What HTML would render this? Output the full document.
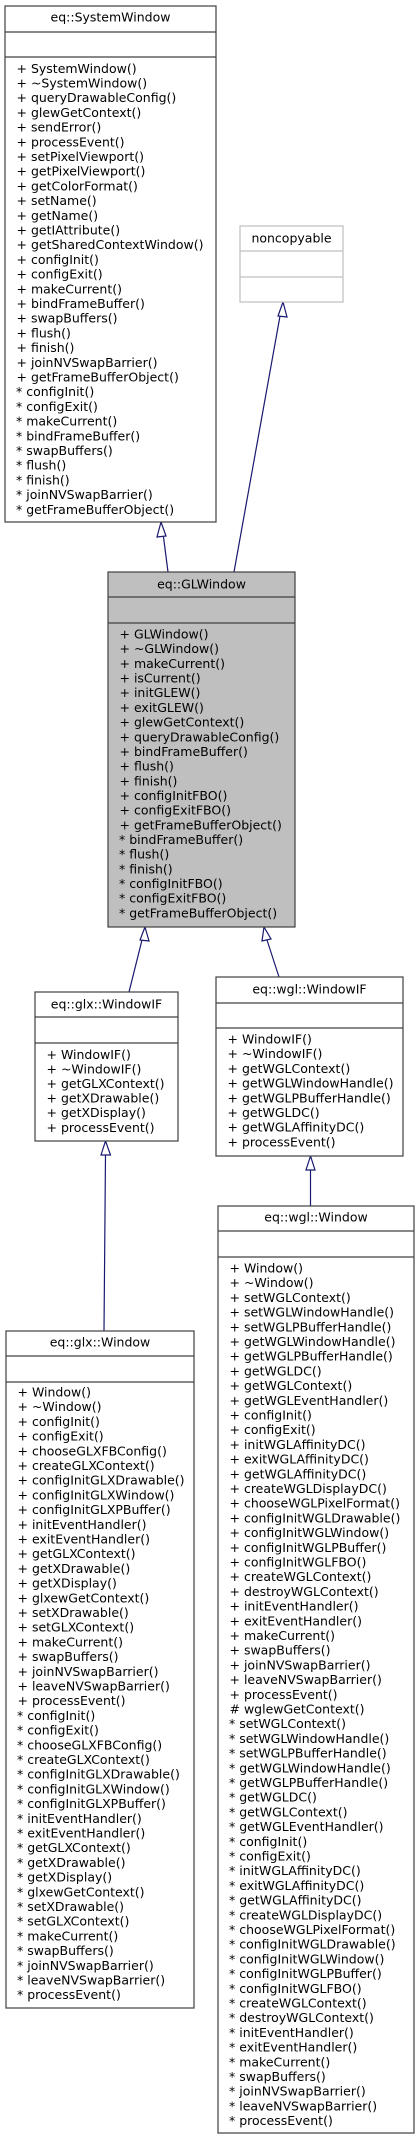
<!DOCTYPE html>
<html><head><meta charset="utf-8"><style>
html,body{margin:0;padding:0;background:#fff;}
svg{display:block;}
text{font-family:"DejaVu Sans","Liberation Sans",sans-serif;font-size:12.5px;fill:#000;}
</style></head><body>
<svg width="419" height="2139" viewBox="0 0 419 2139" xmlns="http://www.w3.org/2000/svg">
<!-- edges -->
<g stroke="#191970" stroke-width="1.2" fill="#fff">
<line x1="168" y1="572" x2="163.5" y2="537"/>
<polygon points="161,522 157,537 166,536"/>
<line x1="234" y1="572" x2="280" y2="316"/>
<polygon points="283,302 278,316 287,317"/>
<line x1="129" y1="992" x2="142" y2="940"/>
<polygon points="145,927 140,940 149,941"/>
<line x1="279" y1="977" x2="267" y2="940"/>
<polygon points="264,927 262,941 271,939"/>
<line x1="104" y1="1331" x2="105.5" y2="1155"/>
<polygon points="105.5,1141 101,1155 110.5,1155"/>
<line x1="310.5" y1="1206" x2="310.5" y2="1170"/>
<polygon points="310.5,1156 306,1170 315,1170"/>
</g>
<!-- boxes -->
<g stroke="#404040" stroke-width="1.2">
<rect x="5" y="6" width="211" height="516" fill="#fff"/>
<line x1="5" y1="32" x2="216" y2="32"/><line x1="5" y1="57" x2="216" y2="57"/>
<rect x="108" y="572" width="187" height="355" fill="#bfbfbf"/>
<line x1="108" y1="597" x2="295" y2="597"/><line x1="108" y1="623" x2="295" y2="623"/>
<rect x="35" y="992" width="143" height="149" fill="#fff"/>
<line x1="35" y1="1017" x2="178" y2="1017"/><line x1="35" y1="1043" x2="178" y2="1043"/>
<rect x="216" y="977" width="187" height="179" fill="#fff"/>
<line x1="216" y1="1003" x2="403" y2="1003"/><line x1="216" y1="1028" x2="403" y2="1028"/>
<rect x="6" y="1331" width="188" height="677" fill="#fff"/>
<line x1="6" y1="1356" x2="194" y2="1356"/><line x1="6" y1="1382" x2="194" y2="1382"/>
<rect x="218" y="1206" width="196" height="927" fill="#fff"/>
<line x1="218" y1="1231" x2="414" y2="1231"/><line x1="218" y1="1257" x2="414" y2="1257"/>
</g>
<g stroke="#bfbfbf" stroke-width="1.2" fill="#fff">
<rect x="240" y="226" width="103" height="76"/>
<line x1="240" y1="251" x2="343" y2="251"/><line x1="240" y1="277" x2="343" y2="277"/>
</g>
<!-- titles -->
<g text-anchor="middle">
<text x="110.5" y="21.5">eq::SystemWindow</text>
<text x="291.5" y="242.5">noncopyable</text>
<text x="201.5" y="588.5">eq::GLWindow</text>
<text x="106.5" y="1008.5">eq::glx::WindowIF</text>
<text x="309.5" y="993.5">eq::wgl::WindowIF</text>
<text x="100" y="1346.5">eq::glx::Window</text>
<text x="316" y="1221.5">eq::wgl::Window</text>
</g>
<!-- SystemWindow -->
<text x="16.5" y="72.8"><tspan x="16.5">+ SystemWindow()</tspan><tspan x="16.5" dy="14.7">+ ~SystemWindow()</tspan><tspan x="16.5" dy="14.7">+ queryDrawableConfig()</tspan><tspan x="16.5" dy="14.7">+ glewGetContext()</tspan><tspan x="16.5" dy="14.7">+ sendError()</tspan><tspan x="16.5" dy="14.7">+ processEvent()</tspan><tspan x="16.5" dy="14.7">+ setPixelViewport()</tspan><tspan x="16.5" dy="14.7">+ getPixelViewport()</tspan><tspan x="16.5" dy="14.7">+ getColorFormat()</tspan><tspan x="16.5" dy="14.7">+ setName()</tspan><tspan x="16.5" dy="14.7">+ getName()</tspan><tspan x="16.5" dy="14.7">+ getIAttribute()</tspan><tspan x="16.5" dy="14.7">+ getSharedContextWindow()</tspan><tspan x="16.5" dy="14.7">+ configInit()</tspan><tspan x="16.5" dy="14.7">+ configExit()</tspan><tspan x="16.5" dy="14.7">+ makeCurrent()</tspan><tspan x="16.5" dy="14.7">+ bindFrameBuffer()</tspan><tspan x="16.5" dy="14.7">+ swapBuffers()</tspan><tspan x="16.5" dy="14.7">+ flush()</tspan><tspan x="16.5" dy="14.7">+ finish()</tspan><tspan x="16.5" dy="14.7">+ joinNVSwapBarrier()</tspan><tspan x="16.5" dy="14.7">+ getFrameBufferObject()</tspan><tspan x="16" dy="14.7">* configInit()</tspan><tspan x="16" dy="14.7">* configExit()</tspan><tspan x="16" dy="14.7">* makeCurrent()</tspan><tspan x="16" dy="14.7">* bindFrameBuffer()</tspan><tspan x="16" dy="14.7">* swapBuffers()</tspan><tspan x="16" dy="14.7">* flush()</tspan><tspan x="16" dy="14.7">* finish()</tspan><tspan x="16" dy="14.7">* joinNVSwapBarrier()</tspan><tspan x="16" dy="14.7">* getFrameBufferObject()</tspan></text>
<!-- GLWindow -->
<text x="119.5" y="638.5"><tspan x="119.5">+ GLWindow()</tspan><tspan x="119.5" dy="14.68">+ ~GLWindow()</tspan><tspan x="119.5" dy="14.68">+ makeCurrent()</tspan><tspan x="119.5" dy="14.68">+ isCurrent()</tspan><tspan x="119.5" dy="14.68">+ initGLEW()</tspan><tspan x="119.5" dy="14.68">+ exitGLEW()</tspan><tspan x="119.5" dy="14.68">+ glewGetContext()</tspan><tspan x="119.5" dy="14.68">+ queryDrawableConfig()</tspan><tspan x="119.5" dy="14.68">+ bindFrameBuffer()</tspan><tspan x="119.5" dy="14.68">+ flush()</tspan><tspan x="119.5" dy="14.68">+ finish()</tspan><tspan x="119.5" dy="14.68">+ configInitFBO()</tspan><tspan x="119.5" dy="14.68">+ configExitFBO()</tspan><tspan x="119.5" dy="14.68">+ getFrameBufferObject()</tspan><tspan x="119" dy="14.68">* bindFrameBuffer()</tspan><tspan x="119" dy="14.68">* flush()</tspan><tspan x="119" dy="14.68">* finish()</tspan><tspan x="119" dy="14.68">* configInitFBO()</tspan><tspan x="119" dy="14.68">* configExitFBO()</tspan><tspan x="119" dy="14.68">* getFrameBufferObject()</tspan></text>
<!-- glx::WindowIF -->
<text x="46.5" y="1058.8"><tspan x="46.5">+ WindowIF()</tspan><tspan x="46.5" dy="14.6">+ ~WindowIF()</tspan><tspan x="46.5" dy="14.6">+ getGLXContext()</tspan><tspan x="46.5" dy="14.6">+ getXDrawable()</tspan><tspan x="46.5" dy="14.6">+ getXDisplay()</tspan><tspan x="46.5" dy="14.6">+ processEvent()</tspan></text>
<!-- wgl::WindowIF -->
<text x="227.5" y="1043.5"><tspan x="227.5">+ WindowIF()</tspan><tspan x="227.5" dy="14.7">+ ~WindowIF()</tspan><tspan x="227.5" dy="14.7">+ getWGLContext()</tspan><tspan x="227.5" dy="14.7">+ getWGLWindowHandle()</tspan><tspan x="227.5" dy="14.7">+ getWGLPBufferHandle()</tspan><tspan x="227.5" dy="14.7">+ getWGLDC()</tspan><tspan x="227.5" dy="14.7">+ getWGLAffinityDC()</tspan><tspan x="227.5" dy="14.7">+ processEvent()</tspan></text>
<!-- glx::Window -->
<text x="17.5" y="1396.5"><tspan x="17.5">+ Window()</tspan><tspan x="17.5" dy="14.7">+ ~Window()</tspan><tspan x="17.5" dy="14.7">+ configInit()</tspan><tspan x="17.5" dy="14.7">+ configExit()</tspan><tspan x="17.5" dy="14.7">+ chooseGLXFBConfig()</tspan><tspan x="17.5" dy="14.7">+ createGLXContext()</tspan><tspan x="17.5" dy="14.7">+ configInitGLXDrawable()</tspan><tspan x="17.5" dy="14.7">+ configInitGLXWindow()</tspan><tspan x="17.5" dy="14.7">+ configInitGLXPBuffer()</tspan><tspan x="17.5" dy="14.7">+ initEventHandler()</tspan><tspan x="17.5" dy="14.7">+ exitEventHandler()</tspan><tspan x="17.5" dy="14.7">+ getGLXContext()</tspan><tspan x="17.5" dy="14.7">+ getXDrawable()</tspan><tspan x="17.5" dy="14.7">+ getXDisplay()</tspan><tspan x="17.5" dy="14.7">+ glxewGetContext()</tspan><tspan x="17.5" dy="14.7">+ setXDrawable()</tspan><tspan x="17.5" dy="14.7">+ setGLXContext()</tspan><tspan x="17.5" dy="14.7">+ makeCurrent()</tspan><tspan x="17.5" dy="14.7">+ swapBuffers()</tspan><tspan x="17.5" dy="14.7">+ joinNVSwapBarrier()</tspan><tspan x="17.5" dy="14.7">+ leaveNVSwapBarrier()</tspan><tspan x="17.5" dy="14.7">+ processEvent()</tspan><tspan x="17" dy="14.7">* configInit()</tspan><tspan x="17" dy="14.7">* configExit()</tspan><tspan x="17" dy="14.7">* chooseGLXFBConfig()</tspan><tspan x="17" dy="14.7">* createGLXContext()</tspan><tspan x="17" dy="14.7">* configInitGLXDrawable()</tspan><tspan x="17" dy="14.7">* configInitGLXWindow()</tspan><tspan x="17" dy="14.7">* configInitGLXPBuffer()</tspan><tspan x="17" dy="14.7">* initEventHandler()</tspan><tspan x="17" dy="14.7">* exitEventHandler()</tspan><tspan x="17" dy="14.7">* getGLXContext()</tspan><tspan x="17" dy="14.7">* getXDrawable()</tspan><tspan x="17" dy="14.7">* getXDisplay()</tspan><tspan x="17" dy="14.7">* glxewGetContext()</tspan><tspan x="17" dy="14.7">* setXDrawable()</tspan><tspan x="17" dy="14.7">* setGLXContext()</tspan><tspan x="17" dy="14.7">* makeCurrent()</tspan><tspan x="17" dy="14.7">* swapBuffers()</tspan><tspan x="17" dy="14.7">* joinNVSwapBarrier()</tspan><tspan x="17" dy="14.7">* leaveNVSwapBarrier()</tspan><tspan x="17" dy="14.7">* processEvent()</tspan></text>
<!-- wgl::Window -->
<text x="229.5" y="1272.5"><tspan x="229.5">+ Window()</tspan><tspan x="229.5" dy="14.7">+ ~Window()</tspan><tspan x="229.5" dy="14.7">+ setWGLContext()</tspan><tspan x="229.5" dy="14.7">+ setWGLWindowHandle()</tspan><tspan x="229.5" dy="14.7">+ setWGLPBufferHandle()</tspan><tspan x="229.5" dy="14.7">+ getWGLWindowHandle()</tspan><tspan x="229.5" dy="14.7">+ getWGLPBufferHandle()</tspan><tspan x="229.5" dy="14.7">+ getWGLDC()</tspan><tspan x="229.5" dy="14.7">+ getWGLContext()</tspan><tspan x="229.5" dy="14.7">+ getWGLEventHandler()</tspan><tspan x="229.5" dy="14.7">+ configInit()</tspan><tspan x="229.5" dy="14.7">+ configExit()</tspan><tspan x="229.5" dy="14.7">+ initWGLAffinityDC()</tspan><tspan x="229.5" dy="14.7">+ exitWGLAffinityDC()</tspan><tspan x="229.5" dy="14.7">+ getWGLAffinityDC()</tspan><tspan x="229.5" dy="14.7">+ createWGLDisplayDC()</tspan><tspan x="229.5" dy="14.7">+ chooseWGLPixelFormat()</tspan><tspan x="229.5" dy="14.7">+ configInitWGLDrawable()</tspan><tspan x="229.5" dy="14.7">+ configInitWGLWindow()</tspan><tspan x="229.5" dy="14.7">+ configInitWGLPBuffer()</tspan><tspan x="229.5" dy="14.7">+ configInitWGLFBO()</tspan><tspan x="229.5" dy="14.7">+ createWGLContext()</tspan><tspan x="229.5" dy="14.7">+ destroyWGLContext()</tspan><tspan x="229.5" dy="14.7">+ initEventHandler()</tspan><tspan x="229.5" dy="14.7">+ exitEventHandler()</tspan><tspan x="229.5" dy="14.7">+ makeCurrent()</tspan><tspan x="229.5" dy="14.7">+ swapBuffers()</tspan><tspan x="229.5" dy="14.7">+ joinNVSwapBarrier()</tspan><tspan x="229.5" dy="14.7">+ leaveNVSwapBarrier()</tspan><tspan x="229.5" dy="14.7">+ processEvent()</tspan><tspan x="229.5" dy="14.7"># wglewGetContext()</tspan><tspan x="229" dy="14.7">* setWGLContext()</tspan><tspan x="229" dy="14.7">* setWGLWindowHandle()</tspan><tspan x="229" dy="14.7">* setWGLPBufferHandle()</tspan><tspan x="229" dy="14.7">* getWGLWindowHandle()</tspan><tspan x="229" dy="14.7">* getWGLPBufferHandle()</tspan><tspan x="229" dy="14.7">* getWGLDC()</tspan><tspan x="229" dy="14.7">* getWGLContext()</tspan><tspan x="229" dy="14.7">* getWGLEventHandler()</tspan><tspan x="229" dy="14.7">* configInit()</tspan><tspan x="229" dy="14.7">* configExit()</tspan><tspan x="229" dy="14.7">* initWGLAffinityDC()</tspan><tspan x="229" dy="14.7">* exitWGLAffinityDC()</tspan><tspan x="229" dy="14.7">* getWGLAffinityDC()</tspan><tspan x="229" dy="14.7">* createWGLDisplayDC()</tspan><tspan x="229" dy="14.7">* chooseWGLPixelFormat()</tspan><tspan x="229" dy="14.7">* configInitWGLDrawable()</tspan><tspan x="229" dy="14.7">* configInitWGLWindow()</tspan><tspan x="229" dy="14.7">* configInitWGLPBuffer()</tspan><tspan x="229" dy="14.7">* configInitWGLFBO()</tspan><tspan x="229" dy="14.7">* createWGLContext()</tspan><tspan x="229" dy="14.7">* destroyWGLContext()</tspan><tspan x="229" dy="14.7">* initEventHandler()</tspan><tspan x="229" dy="14.7">* exitEventHandler()</tspan><tspan x="229" dy="14.7">* makeCurrent()</tspan><tspan x="229" dy="14.7">* swapBuffers()</tspan><tspan x="229" dy="14.7">* joinNVSwapBarrier()</tspan><tspan x="229" dy="14.7">* leaveNVSwapBarrier()</tspan><tspan x="229" dy="14.7">* processEvent()</tspan></text>
</svg>
</body></html>
